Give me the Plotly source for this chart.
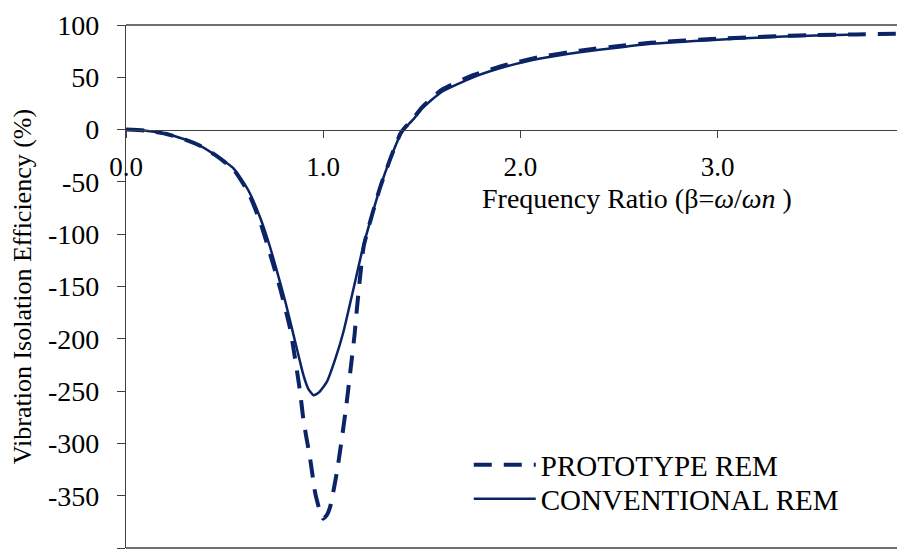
import plotly.graph_objects as go

# ---- data ----
conv_x = [0, 0.1, 0.2, 0.3, 0.376, 0.45, 0.545, 0.62, 0.68, 0.73, 0.765, 0.81, 0.849, 0.88,
          0.90, 0.925, 0.951, 0.98, 1.019, 1.06, 1.103, 1.15, 1.205, 1.25, 1.289, 1.34, 1.391,
          1.408, 1.458, 1.5, 1.6, 1.76, 1.93, 2.1, 2.3, 2.5, 2.66, 3.0, 3.335, 3.5, 3.71]
conv_y = [0, -1, -4, -9.5, -15.5, -24, -37, -58, -84, -112, -135, -166, -196, -220,
          -235, -248, -254, -251, -241, -220, -193, -155, -110, -80, -55, -28, -5,
          0, 10, 20, 36, 50, 60.5, 68, 74, 78.5, 82, 86, 89, 90, 91]

proto_x = [0, 0.1, 0.2, 0.3, 0.376, 0.45, 0.545, 0.62, 0.68, 0.731, 0.782, 0.832, 0.849, 0.883,
           0.9, 0.934, 0.959, 0.985, 1.0, 1.02, 1.036, 1.069, 1.094, 1.117, 1.137, 1.159, 1.171,
           1.205, 1.25, 1.289, 1.34, 1.391, 1.41, 1.458, 1.5, 1.6, 1.76, 1.93, 2.1, 2.3, 2.5,
           2.66, 3.0, 3.335, 3.5, 3.7, 4.0]
proto_y = [0, -1, -4, -9.5, -15.5, -24, -38, -60, -88, -119, -152, -190, -209, -251,
           -278, -315, -347, -366, -372, -368, -360, -328, -296, -264, -232, -196, -171,
           -112, -80, -55, -28, -4, 1, 11, 21, 38, 52, 62, 69.5, 75.5, 80,
           83, 87, 89.5, 90.5, 91, 92]

series_names = ["CONVENTIONAL REM", "PROTOTYPE REM"]

x_tick_vals = [0, 1, 2, 3]
x_tick_text = ["0.0", "1.0", "2.0", "3.0"]
y_tick_vals = [100, 50, 0, -50, -100, -150, -200, -250, -300, -350, -400]
y_tick_text = ["100", "50", "0", "-50", "-100", "-150", "-200", "-250", "-300", "-350", "-400"]

x_title = "Frequency Ratio (β=<i>ω</i>/<i>ωn</i> )"
y_title = "Vibration Isolation Efficiency (%)"

# ---- styling ----
NAVY = "#0b2466"
AXIS = "#404040"
FONT = "Liberation Serif"
FS = 28
FS_X = 27
FS_Y = 26
FS_LEG = 29

fig = go.Figure()
fig.add_trace(go.Scatter(x=conv_x, y=conv_y, mode="lines", name=series_names[0],
                         legend="legend2",
                         line=dict(color=NAVY, width=2.5, shape="spline", smoothing=0.5)))
fig.add_trace(go.Scatter(x=proto_x, y=proto_y, mode="lines", name=series_names[1],
                         legend="legend",
                         line=dict(color=NAVY, width=4, dash="18px,12px",
                                   shape="spline", smoothing=0.5)))

X_MAX = 3.95
leg_common = dict(xanchor="left", yanchor="middle", bgcolor="rgba(0,0,0,0)",
                  font=dict(family=FONT, size=FS_LEG, color="black"), itemwidth=62)
fig.update_layout(
    width=897, height=550,
    margin=dict(l=118, r=0, t=17, b=10),
    paper_bgcolor="white", plot_bgcolor="white",
    font=dict(family=FONT, size=FS, color="black"),
    showlegend=True,
    legend=dict(x=0.44, y=0.1587, **leg_common),
    legend2=dict(x=0.44, y=0.0937, **leg_common),
    xaxis=dict(range=[0, X_MAX], anchor="free", position=0.8,
               tickvals=x_tick_vals, ticktext=x_tick_text,
               ticks="outside", ticklen=7, tickwidth=1.3, tickcolor=AXIS,
               showline=True, linecolor=AXIS, linewidth=1.3,
               showgrid=False, zeroline=False, ticklabelstandoff=6,
               tickfont=dict(family=FONT, size=FS_X, color="black")),
    yaxis=dict(range=[-400, 100],
               tickvals=y_tick_vals, ticktext=y_tick_text,
               ticks="outside", ticklen=8, tickwidth=1.3, tickcolor=AXIS,
               showline=True, linecolor=AXIS, linewidth=1.3,
               showgrid=False, zeroline=False, ticklabelstandoff=12,
               tickfont=dict(family=FONT, size=FS, color="black")),
    shapes=[
        dict(type="line", xref="paper", yref="paper", x0=0, x1=1, y0=1, y1=1,
             line=dict(color=AXIS, width=1.3)),
        dict(type="line", xref="paper", yref="paper", x0=0, x1=1, y0=0, y1=0,
             line=dict(color=AXIS, width=1.3)),
    ],
    annotations=[
        dict(text=x_title, xref="paper", yref="paper", x=0.6566, y=0.668,
             xanchor="center", yanchor="middle", showarrow=False,
             font=dict(family=FONT, size=FS, color="black")),
        dict(text="4.0", xref="paper", yref="paper", x=4 / X_MAX, y=0.8,
             xanchor="center", yanchor="top", yshift=-26, showarrow=False,
             font=dict(family=FONT, size=FS_X, color="black")),
    ],
)
fig.update_yaxes(title=dict(text=y_title, standoff=8,
                            font=dict(family=FONT, size=FS_Y, color="black")))

fig.write_html("out.html")
